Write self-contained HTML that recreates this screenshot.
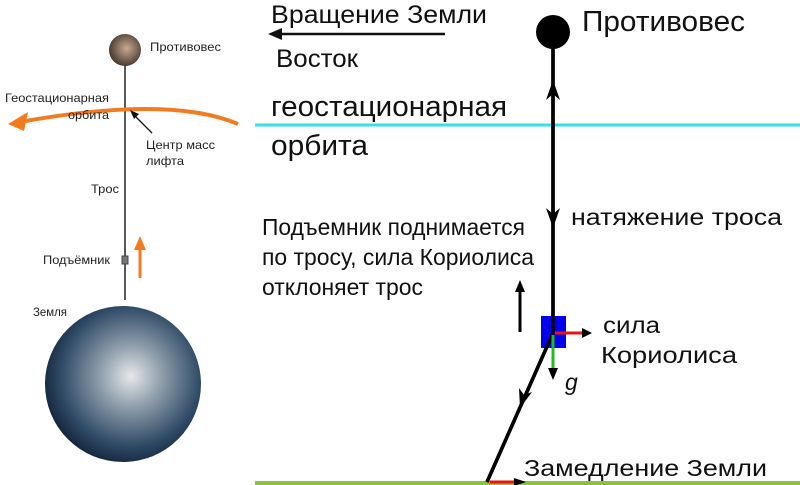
<!DOCTYPE html>
<html><head><meta charset="utf-8"><style>
body{margin:0;background:#fff}
svg{display:block}
text{font-family:"Liberation Sans",sans-serif}
</style></head><body>
<svg width="800" height="485" viewBox="0 0 800 485" xmlns="http://www.w3.org/2000/svg">
<defs>
<radialGradient id="e" cx="0.55" cy="0.45" r="0.6">
<stop offset="0" stop-color="#e6e8ea"/><stop offset="0.35" stop-color="#8a9aa8"/><stop offset="0.75" stop-color="#2f4a66"/><stop offset="1" stop-color="#0f1e33"/></radialGradient>
<radialGradient id="r" cx="0.55" cy="0.45" r="0.6"><stop offset="0" stop-color="#c9aa92"/><stop offset="1" stop-color="#3e3129"/></radialGradient>
</defs>
<line x1="125" y1="65" x2="125" y2="300" stroke="#222" stroke-width="1.5"/>
<ellipse cx="125" cy="50" rx="16" ry="16" fill="url(#r)"/>
<text x="150" y="51" font-size="12" fill="#222" textLength="71" lengthAdjust="spacingAndGlyphs">Противовес</text>
<path d="M238 124 Q170 95 20 122" fill="none" stroke="#f47a20" stroke-width="4"/>
<polygon points="8,124 28,112 24,131" fill="#f47a20"/>
<text x="5" y="102" font-size="12" fill="#222" textLength="104" lengthAdjust="spacingAndGlyphs">Геостационарная</text>
<text x="68" y="119" font-size="12" fill="#222" textLength="41" lengthAdjust="spacingAndGlyphs">орбита</text>
<line x1="152" y1="133" x2="132" y2="113" stroke="#111" stroke-width="1.3"/>
<polygon points="130,110 139,114 134,119" fill="#111"/>
<text x="146" y="149" font-size="12" fill="#222" textLength="69" lengthAdjust="spacingAndGlyphs">Центр масс</text>
<text x="146" y="165" font-size="12" fill="#222" textLength="38" lengthAdjust="spacingAndGlyphs">лифта</text>
<text x="91" y="193" font-size="12" fill="#222" textLength="28" lengthAdjust="spacingAndGlyphs">Трос</text>
<text x="43" y="264" font-size="12" fill="#222" textLength="67" lengthAdjust="spacingAndGlyphs">Подъёмник</text>
<rect x="122" y="256" width="6" height="8" fill="#777" stroke="#444"/>
<line x1="140" y1="278" x2="140" y2="248" stroke="#f47a20" stroke-width="3"/>
<polygon points="134,250 146,250 140,236" fill="#f47a20"/>
<text x="33" y="316" font-size="12" fill="#222" textLength="34" lengthAdjust="spacingAndGlyphs">Земля</text>
<circle cx="123" cy="384" r="78" fill="url(#e)"/>
<line x1="255" y1="125" x2="800" y2="125" stroke="#33e0e8" stroke-width="3"/>
<line x1="255" y1="483" x2="800" y2="483" stroke="#8ac43a" stroke-width="4"/>
<text x="271" y="23" font-size="25" fill="#111" textLength="216" lengthAdjust="spacingAndGlyphs">Вращение Земли</text>
<line x1="275" y1="34" x2="445" y2="34" stroke="#111" stroke-width="2.5"/>
<polygon points="268,34 282,28 282,40" fill="#111"/>
<text x="276" y="67" font-size="25" fill="#111" textLength="82" lengthAdjust="spacingAndGlyphs">Восток</text>
<text x="271" y="116" font-size="29" fill="#111" textLength="236" lengthAdjust="spacingAndGlyphs">геостационарная</text>
<text x="271" y="155" font-size="29" fill="#111" textLength="97" lengthAdjust="spacingAndGlyphs">орбита</text>
<circle cx="553" cy="32" r="17" fill="#000"/>
<text x="582" y="31" font-size="29" fill="#111" textLength="163" lengthAdjust="spacingAndGlyphs">Противовес</text>
<polyline points="553,40 553,333 487,482" fill="none" stroke="#000" stroke-width="3.5"/>
<polygon points="553,80 546,100 553,94 560,100" fill="#000"/>
<polygon points="553,228 546,208 553,214 560,208" fill="#000"/>
<polygon points="520,408 519,388 524,395 532,392" fill="#000"/>
<text x="571" y="225" font-size="23" fill="#111" textLength="211" lengthAdjust="spacingAndGlyphs">натяжение троса</text>
<text x="262" y="235" font-size="23" fill="#111" textLength="263" lengthAdjust="spacingAndGlyphs">Подъемник поднимается</text>
<text x="262" y="265" font-size="23" fill="#111" textLength="272" lengthAdjust="spacingAndGlyphs">по тросу, сила Кориолиса</text>
<text x="262" y="295" font-size="23" fill="#111" textLength="161" lengthAdjust="spacingAndGlyphs">отклоняет трос</text>
<line x1="520" y1="332" x2="520" y2="290" stroke="#000" stroke-width="3"/>
<polygon points="515,292 525,292 520,280" fill="#000"/>
<rect x="541" y="316" width="25" height="32" fill="#0000ee"/>
<polyline points="553,40 553,333 487,482" fill="none" stroke="#000" stroke-width="3.5"/>
<line x1="555" y1="333" x2="584" y2="333" stroke="#ee1111" stroke-width="3"/>
<polygon points="582,328 592,333 582,338" fill="#000"/>
<line x1="553" y1="335" x2="553" y2="370" stroke="#22bb22" stroke-width="3"/>
<polygon points="548,368 558,368 553,380" fill="#000"/>
<text x="565" y="390" font-size="23" font-style="italic" fill="#111">g</text>
<text x="603" y="333" font-size="23" fill="#111" textLength="57" lengthAdjust="spacingAndGlyphs">сила</text>
<text x="601" y="363" font-size="23" fill="#111" textLength="136" lengthAdjust="spacingAndGlyphs">Кориолиса</text>
<line x1="490" y1="482" x2="516" y2="482" stroke="#ee1111" stroke-width="3"/>
<polygon points="514,478 526,482 514,486" fill="#000"/>
<text x="524" y="476" font-size="23" fill="#111" textLength="243" lengthAdjust="spacingAndGlyphs">Замедление Земли</text>
</svg>
</body></html>
